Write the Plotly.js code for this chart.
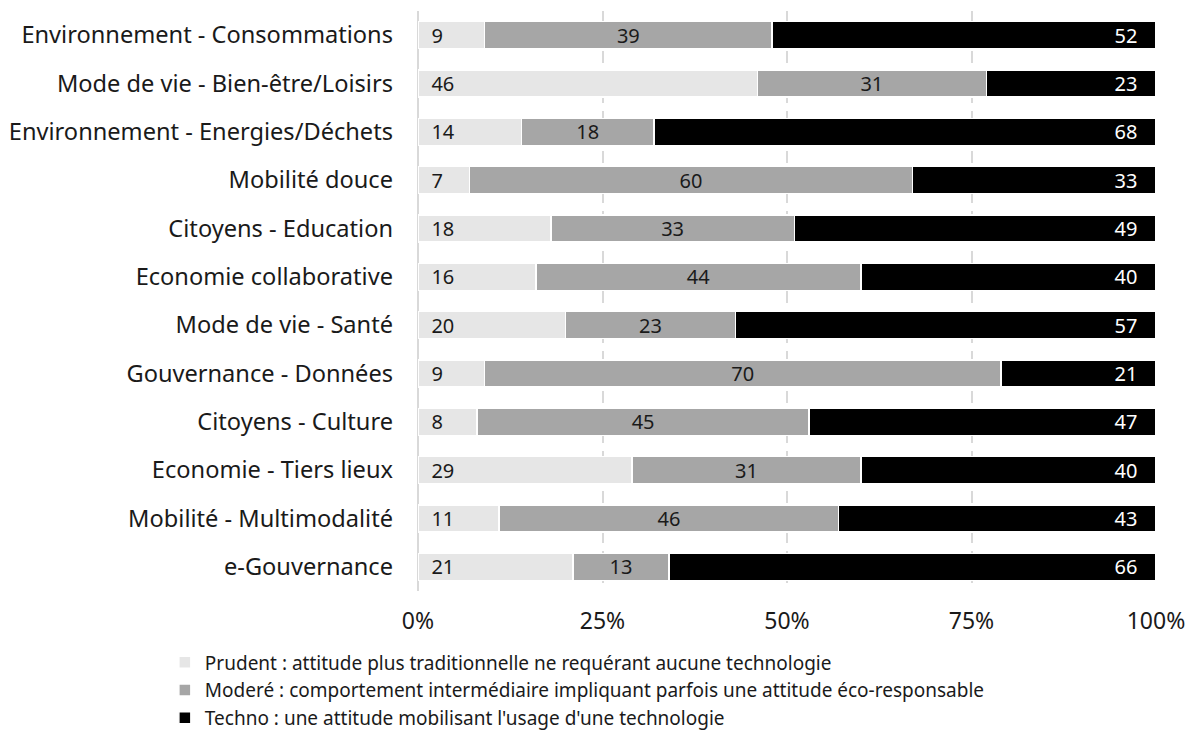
<!DOCTYPE html>
<html><head><meta charset="utf-8">
<script src="https://cdn.plot.ly/plotly-3.0.1.min.js"></script>
<style>html,body{margin:0;padding:0;background:#fff}#chart{width:1191px;height:737px}</style>
</head><body><div id="chart"></div>
<script>
const categories = ["Environnement - Consommations","Mode de vie - Bien-être/Loisirs","Environnement - Energies/Déchets","Mobilité douce","Citoyens - Education","Economie collaborative","Mode de vie - Santé","Gouvernance - Données","Citoyens - Culture","Economie - Tiers lieux","Mobilité - Multimodalité","e-Gouvernance"];
const prudent = [9,46,14,7,18,16,20,9,8,29,11,21];
const modere  = [39,31,18,60,33,44,23,70,45,31,46,13];
const techno  = [52,23,68,33,49,40,57,21,47,40,43,66];
const seriesNames = ["Prudent : attitude plus traditionnelle ne requérant aucune technologie","Moderé : comportement intermédiaire impliquant parfois une attitude éco-responsable","Techno : une attitude mobilisant l'usage d'une technologie"];
const xTickVals = [0,25,50,75,100];
const xTickText = ["0%","25%","50%","75%","100%"];

const FONT = "Noto Sans, Open Sans, sans-serif";
const NB = "\u00a0";
const colors = ["#e6e6e6","#a6a6a6","#000000"];
const anchors = ["start","middle","end"];
const textColors = ["#1a1a1a","#1a1a1a","#ffffff"];
const fmt = [v => NB+NB+v, v => String(v), v => v+NB+NB+NB];
const data = [prudent, modere, techno].map((vals,i)=>({
  type:"bar", orientation:"h", name:seriesNames[i],
  x: vals, y: categories,
  marker:{color:colors[i], line:{color:"#ffffff", width:1.5}},
  text: vals.map(fmt[i]), textposition:"inside", insidetextanchor:anchors[i],
  constraintext:"none",
  textfont:{family:FONT, size:20, color:textColors[i]},
  textangle:0, hoverinfo:"x+y"
}));
const layout = {
  width:1191, height:737,
  margin:{l:418, r:35, t:11, b:146},
  barmode:"stack", bargap:0.44,
  paper_bgcolor:"#fff", plot_bgcolor:"#fff",
  font:{family:FONT, color:"#1a1a1a"},
  xaxis:{range:[0,100], tickvals:xTickVals, ticktext:xTickText, showgrid:true,
    gridcolor:"#d9d9d9", gridwidth:2, griddash:"12px,8px",
    zeroline:true, zerolinecolor:"#d9d9d9", zerolinewidth:2,
    showline:false, ticks:"", tickfont:{size:23, color:"#1a1a1a"}, ticklabelstandoff:14, automargin:false},
  yaxis:{autorange:"reversed", showgrid:false, zeroline:false, ticks:"",
    tickfont:{size:23.6, color:"#1a1a1a"}, ticklabelstandoff:24, automargin:false},
  showlegend:true,
  legend:{orientation:"v", x:-0.343, xanchor:"left", yref:"container", y:0.1269, yanchor:"top",
    font:{size:19, color:"#1a1a1a", family:FONT}, traceorder:"normal", itemwidth:30, tracegroupgap:0},
  uniformtext:{mode:false}
};
Plotly.newPlot("chart", data, layout, {displayModeBar:false, staticPlot:true});
</script></body></html>
